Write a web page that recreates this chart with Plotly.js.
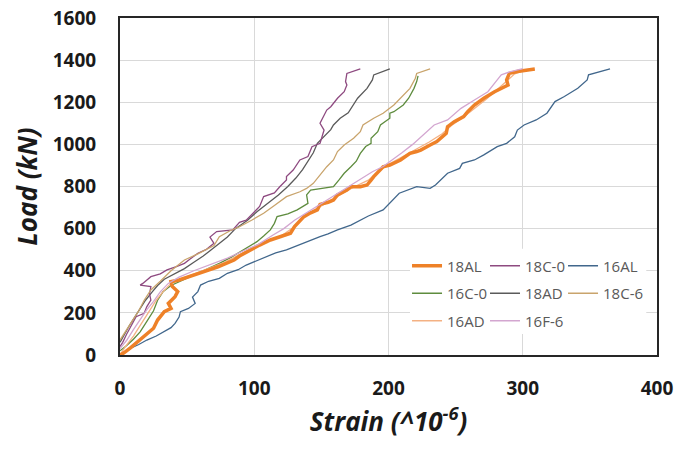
<!DOCTYPE html>
<html>
<head>
<meta charset="utf-8">
<script src="https://cdn.plot.ly/plotly-3.0.1.min.js"></script>
<style>html,body{margin:0;padding:0;background:#fff;}#chart{width:683px;height:452px;}</style>
</head>
<body>
<div id="chart"></div>
<script>
// Series names (legend order)
const seriesNames = ["18AL", "18C-0", "16AL", "16C-0", "18AD", "18C-6", "16AD", "16F-6"];

// Strain (x, ^10-6) and Load (y, kN) values
const x18AL = [0, 3, 8, 15, 22, 25, 28, 33, 38, 36, 41, 43, 39, 38, 44, 48, 55, 60, 67, 73, 80, 85, 89, 97, 104, 112, 118, 122, 127, 130, 132, 137, 142, 147, 149, 155, 159, 162, 169, 172, 179, 184, 187, 189, 196, 201, 209, 216, 221, 224, 231, 236, 243, 244, 249, 256, 259, 264, 271, 279, 289, 288, 290, 296, 309];
const y18AL = [0, 10, 35, 71, 110, 127, 166, 206, 221, 245, 277, 301, 325, 348, 356, 364, 378, 388, 405, 419, 440, 451, 470, 499, 522, 546, 560, 570, 578, 610, 625, 657, 675, 689, 715, 725, 736, 760, 783, 799, 799, 807, 830, 847, 894, 902, 926, 957, 966, 973, 997, 1013, 1052, 1084, 1108, 1132, 1155, 1187, 1219, 1250, 1282, 1306, 1337, 1346, 1358];

const x18C0 = [0, 2, 5, 9, 12, 18, 20, 23, 22, 23, 15, 17, 23, 30, 35, 42, 48, 52, 58, 64, 70, 67, 72, 84, 89, 94, 104, 107, 115, 119, 124, 124, 129, 134, 140, 143, 149, 152, 149, 154, 157, 162, 167, 169, 168, 169, 179];
const y18C0 = [40, 60, 100, 150, 182, 198, 230, 261, 290, 325, 332, 340, 372, 385, 404, 420, 435, 455, 483, 500, 530, 560, 586, 594, 630, 640, 705, 752, 770, 799, 831, 847, 878, 926, 942, 989, 1005, 1068, 1100, 1163, 1179, 1219, 1250, 1282, 1298, 1337, 1358];

const x16AL = [0, 2, 8, 14, 20, 27, 33, 38, 41, 44, 45, 51, 56, 54, 58, 60, 66, 74, 80, 88, 94, 101, 109, 116, 124, 132, 139, 149, 155, 162, 172, 185, 196, 204, 208, 221, 231, 235, 244, 253, 255, 264, 271, 281, 288, 294, 296, 301, 310, 318, 324, 331, 341, 348, 349, 365];
const y16AL = [0, 9, 32, 50, 71, 90, 111, 130, 150, 180, 206, 221, 245, 275, 301, 332, 350, 364, 388, 405, 427, 445, 467, 485, 499, 520, 538, 562, 575, 594, 617, 660, 689, 744, 768, 799, 791, 807, 863, 886, 910, 926, 950, 989, 1005, 1036, 1068, 1092, 1116, 1148, 1203, 1227, 1266, 1306, 1330, 1358];

const x16C0 = [0, 5, 10, 15, 20, 25, 28, 32, 38, 45, 52, 60, 67, 74, 83, 92, 97, 102, 107, 112, 115, 117, 125, 132, 140, 139, 142, 149, 159, 163, 167, 172, 176, 179, 183, 187, 187, 192, 194, 201, 201, 204, 211, 215, 219, 221, 222];
const y16C0 = [20, 45, 75, 110, 160, 210, 260, 300, 330, 350, 370, 395, 415, 435, 465, 499, 520, 538, 565, 594, 625, 657, 670, 689, 720, 760, 783, 791, 799, 830, 863, 894, 920, 957, 990, 1005, 1029, 1060, 1092, 1124, 1148, 1155, 1187, 1219, 1266, 1298, 1325];

const x18AD = [0, 3, 7, 11, 15, 19, 24, 28, 33, 40, 48, 55, 62, 68, 74, 80, 86, 95, 102, 110, 118, 125, 131, 136, 140, 144, 147, 152, 157, 159, 164, 170, 172, 177, 184, 188, 189, 201];
const y18AD = [60, 95, 140, 180, 220, 260, 300, 330, 360, 385, 410, 440, 470, 500, 530, 560, 600, 640, 680, 720, 760, 800, 840, 880, 920, 960, 1005, 1040, 1070, 1092, 1124, 1150, 1171, 1219, 1266, 1306, 1330, 1358];

const x18C6 = [0, 4, 8, 14, 18, 23, 30, 38, 48, 58, 70, 74, 82, 89, 98, 107, 115, 124, 134, 139, 144, 149, 154, 159, 162, 167, 174, 179, 181, 189, 196, 204, 211, 216, 220, 221, 231];
const y18C6 = [71, 110, 150, 210, 260, 309, 350, 400, 451, 480, 520, 562, 590, 609, 640, 673, 710, 752, 775, 791, 815, 855, 894, 926, 966, 997, 1029, 1060, 1092, 1124, 1148, 1187, 1235, 1266, 1314, 1337, 1358];

const x16AD = [0, 4, 10, 16, 22, 27, 32, 38, 45, 55, 65, 78, 90, 100, 110, 120, 128, 136, 145, 155, 165, 175, 185, 192, 200, 210, 220, 230, 240, 248, 256, 265, 273, 281, 288, 294, 302];
const y16AD = [0, 40, 90, 150, 210, 260, 300, 340, 360, 385, 410, 440, 480, 510, 540, 565, 600, 650, 690, 725, 765, 800, 830, 870, 905, 940, 975, 1010, 1050, 1095, 1130, 1175, 1215, 1260, 1300, 1335, 1352];

const x16F6 = [0, 5, 10, 15, 20, 25, 30, 36, 44, 55, 68, 80, 92, 103, 114, 122, 130, 140, 150, 160, 170, 180, 188, 196, 204, 210, 218, 226, 234, 244, 254, 264, 274, 281, 284, 291, 300];
const y16F6 = [30, 70, 120, 170, 215, 255, 300, 340, 370, 400, 430, 460, 495, 525, 570, 600, 640, 680, 720, 760, 800, 840, 870, 895, 930, 960, 1000, 1045, 1092, 1116, 1171, 1211, 1250, 1306, 1330, 1346, 1360];

// Axis ticks
const xTicks = [0, 100, 200, 300, 400];
const yTicks = [0, 200, 400, 600, 800, 1000, 1200, 1400, 1600];

const xs = [x18AL, x18C0, x16AL, x16C0, x18AD, x18C6, x16AD, x16F6];
const ys = [y18AL, y18C0, y16AL, y16C0, y18AD, y18C6, y16AD, y16F6];
const colors = ["#EE8128", "#8E4A80", "#41678C", "#5E8C3E", "#5A5A5A", "#C9A46C", "#F4B183", "#D3A6D0"];
const widths = [3.5, 1.3, 1.3, 1.3, 1.3, 1.3, 1.3, 1.3];
// legend columns: col1 = 18AL,16C-0,16AD ; col2 = 18C-0,18AD,16F-6 ; col3 = 16AL,18C-6
const legendIds = ["legend", "legend2", "legend3", "legend", "legend2", "legend3", "legend", "legend2"];
const drawOrder = [2, 4, 1, 5, 3, 6, 0, 7];

const traces = drawOrder.map(i => ({
  type: "scatter", mode: "lines",
  x: xs[i], y: ys[i], name: seriesNames[i],
  line: {color: colors[i], width: widths[i]},
  legend: legendIds[i], legendgroup: "g" + i, legendrank: i + 1,
  hoverinfo: "skip"
}));

const legFont = {family: "Open Sans, sans-serif", size: 15, color: "#595959"};
function leg(x) {
  return {orientation: "v", x: x, xanchor: "left", y: 0.313, yanchor: "top",
    bgcolor: "rgba(0,0,0,0)", borderwidth: 0, font: legFont, itemwidth: 30,
    traceorder: "grouped", tracegroupgap: 5};
}

const tickFont = {family: "Open Sans, sans-serif", size: 19, color: "#1a1a1a", weight: "bold"};
const titleFont = {family: "Open Sans, sans-serif", size: 26, color: "#1a1a1a", weight: "bold", style: "italic"};

const layout = {
  width: 683, height: 452,
  margin: {l: 120, r: 26, t: 18, b: 97},
  paper_bgcolor: "#ffffff", plot_bgcolor: "#ffffff",
  showlegend: true,
  xaxis: {range: [0, 400], tickvals: xTicks, ticktext: xTicks.map(String),
    showgrid: true, gridcolor: "#D9D9D9", gridwidth: 1, zeroline: false,
    showline: true, mirror: true, linecolor: "#262626", linewidth: 2,
    ticks: "outside", ticklen: 15, tickcolor: "rgba(0,0,0,0)",
    tickfont: tickFont,
    title: {text: "Strain (^10<sup>-6</sup>)", font: titleFont, standoff: 6}},
  yaxis: {range: [0, 1600], tickvals: yTicks, ticktext: yTicks.map(String),
    showgrid: true, gridcolor: "#D9D9D9", gridwidth: 1, zeroline: false,
    showline: true, mirror: true, linecolor: "#262626", linewidth: 2,
    ticks: "outside", ticklen: 18, tickcolor: "rgba(0,0,0,0)",
    tickfont: tickFont,
    title: {text: "Load (kN)", font: titleFont, standoff: 8}},
  shapes: [{type: "rect", xref: "paper", yref: "paper", x0: 0.54, x1: 0.98, y0: 0.062, y1: 0.315,
    fillcolor: "#ffffff", line: {width: 0}, layer: "above"}],
  legend: leg(0.5345),
  legend2: leg(0.6797),
  legend3: leg(0.8250)
};

Plotly.newPlot("chart", traces, layout, {displayModeBar: false, staticPlot: true});
</script>
</body>
</html>
